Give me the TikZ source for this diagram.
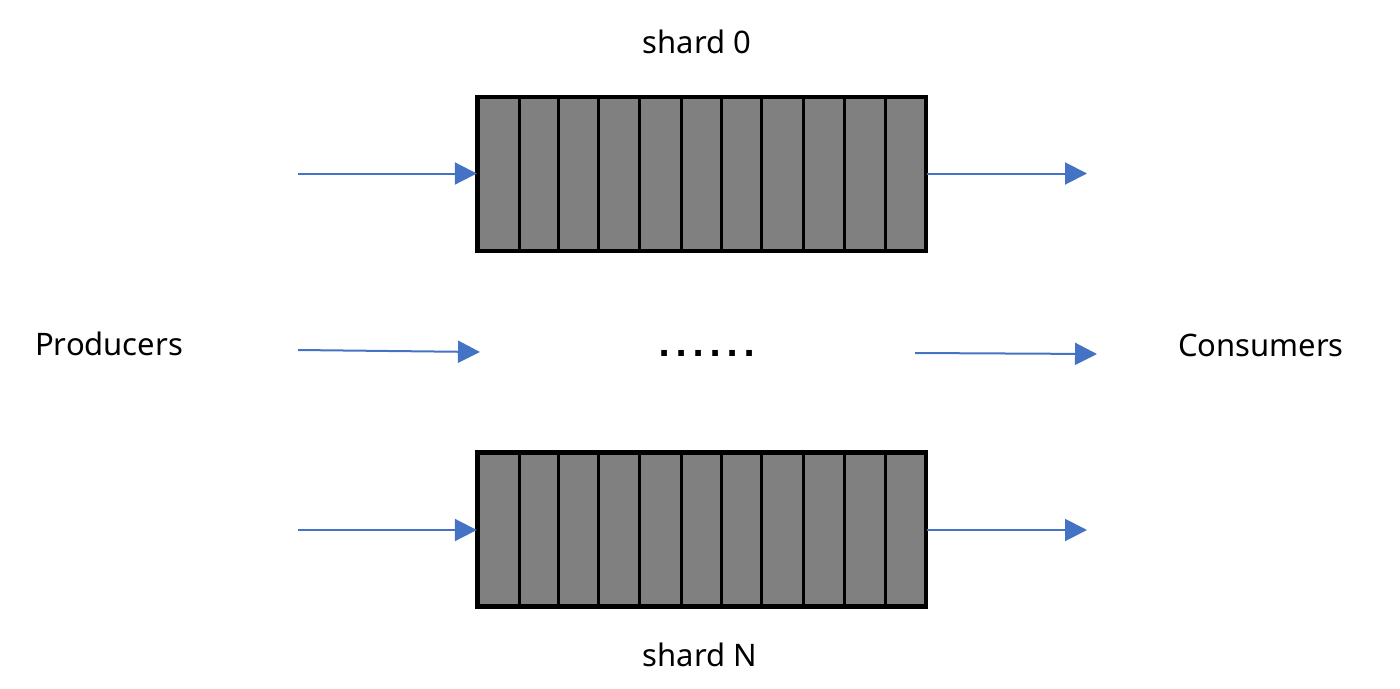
\documentclass[tikz,border=0pt]{standalone}
\usepackage{fontspec}
\setmainfont{Noto Sans}
\newfontfamily\dotfont{DejaVu Sans}
\usetikzlibrary{arrows.meta}
\definecolor{arrowblue}{HTML}{4472C4}
\definecolor{cellgray}{HTML}{808080}
\newcommand\mydot{\makebox[17pt]{.}}
\tikzset{
  lbl/.style={font=\fontsize{31}{31}\selectfont, anchor=base, inner sep=0pt},
  flow/.style={draw=arrowblue, line width=2pt, -{Triangle[length=22pt,width=22pt]}},
  shardbox/.style={draw=black, line width=3pt, fill=cellgray, minimum width=446.7pt, minimum height=152.3pt, inner sep=0pt},
  cellline/.style={draw=black, line width=2.6pt}
}
\begin{document}
\begin{tikzpicture}[x=1pt,y=-1pt]
\useasboundingbox (0,0) rectangle (1400,688);
% labels
\node[lbl] (s0lbl) at (697,53) {shard 0};
\node[lbl] (snlbl) at (700,666) {shard N};
\node[lbl] (prod) at (109,355) {Producers};
\node[lbl] (cons) at (1261,356.5) {Consumers};
% shards
\node[shardbox] (s0) at (701.65,173.85) {};
\node[shardbox] (sn) at (701.65,529.5) {};
\foreach \x in {519.3,558.3,598.3,639.3,681.7,721.7,761.7,803.3,844.3,885.7}{
  \draw[cellline] (\x,97.7) -- (\x,250);
  \draw[cellline] (\x,453.3) -- (\x,605.7);
}
\draw[draw=black, line width=3pt] (s0.south west) rectangle (s0.north east);
\draw[draw=black, line width=3pt] (sn.south west) rectangle (sn.north east);
% dots
\node[font=\dotfont\bfseries\fontsize{32}{32}\selectfont, anchor=base, inner sep=0pt] (dots) at (707.5,356) {\mydot\mydot\mydot\mydot\mydot\mydot};
% arrow endpoints
\coordinate (p0) at (298,173.5);
\coordinate (c0) at (1087,173.5);
\coordinate (pn) at (298,530);
\coordinate (cn) at (1087,530);
\coordinate (pm) at (298,350);
\coordinate (pmend) at (480,352);
\coordinate (cmstart) at (915,353);
\coordinate (cm) at (1097,354);
\draw[flow] (p0) -- (s0.west |- p0);
\draw[flow] (s0.east |- p0) -- (c0);
\draw[flow] (pn) -- (sn.west |- pn);
\draw[flow] (sn.east |- pn) -- (cn);
\draw[flow] (pm) -- (pmend);
\draw[flow] (cmstart) -- (cm);
\end{tikzpicture}
\end{document}
